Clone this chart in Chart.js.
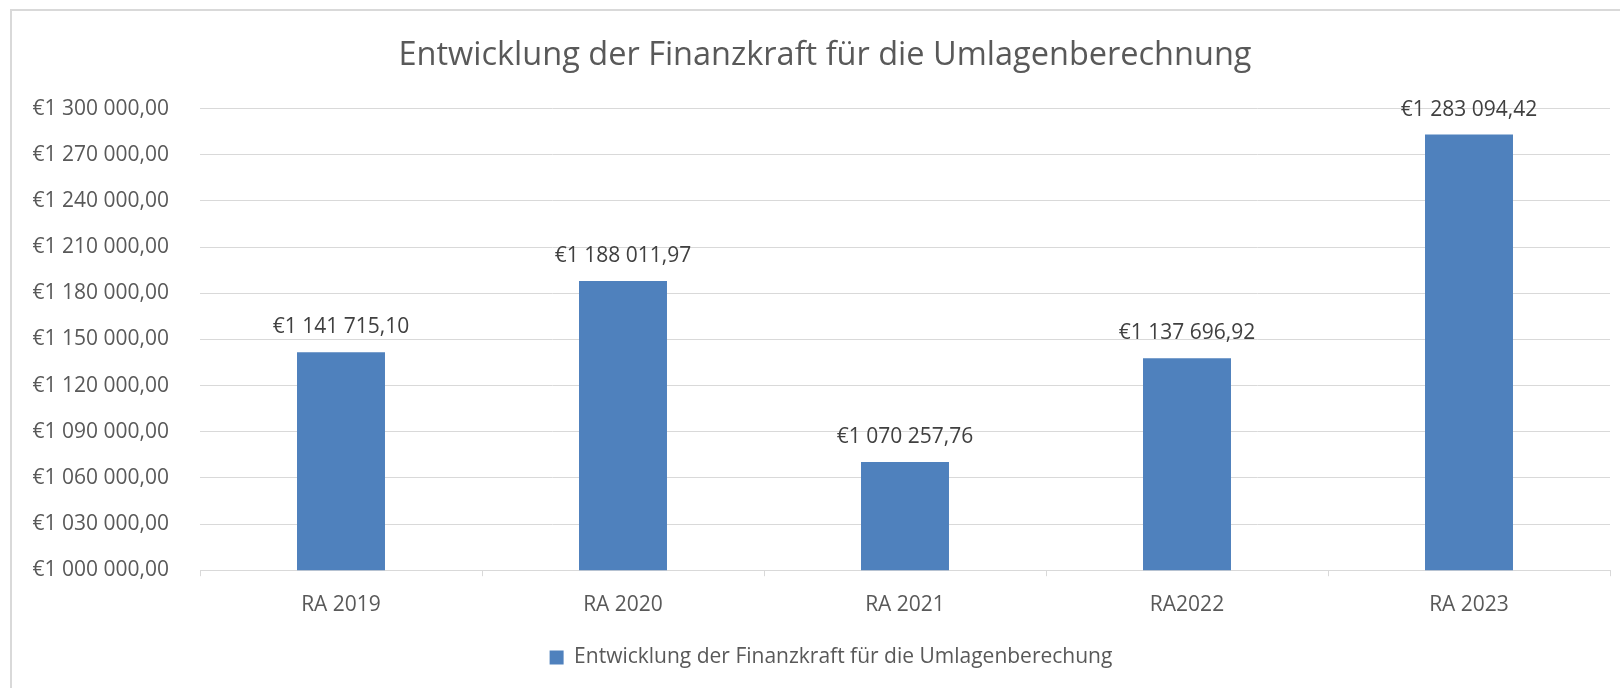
<!DOCTYPE html>
<html><head><meta charset="utf-8">
<script src="https://cdn.jsdelivr.net/npm/chart.js@4.4.0/dist/chart.umd.min.js"></script>
<style>html,body{margin:0;padding:0;background:#fff;overflow:hidden}#wrap{width:1620px;height:688px;position:relative}</style>
</head><body><div id="wrap"><canvas id="c" width="1620" height="688"></canvas></div>
<script>
const categories = ['RA 2019', 'RA 2020', 'RA 2021', 'RA2022', 'RA 2023'];
const values = [1141715.10, 1188011.97, 1070257.76, 1137696.92, 1283094.42];
const seriesName = 'Entwicklung der Finanzkraft für die Umlagenberechung';
const chartTitle = 'Entwicklung der Finanzkraft für die Umlagenberechnung';
const yMin = 1000000, yMax = 1300000, yStep = 30000;

const FONT = "'Open Sans', 'Noto Sans', sans-serif";
const TXT = '#595959';
const GRID = '#d9d9d9';
const BAR = '#4f81bd';
const FS = 21;

function euro(v) {
  const parts = Math.abs(v).toFixed(2).split('.');
  return '€' + parts[0].replace(/\B(?=(\d{3})+(?!\d))/g, ' ') + ',' + parts[1];
}

const framePlugin = {
  id: 'frame',
  beforeDraw(chart) {
    const ctx = chart.ctx;
    ctx.save();
    ctx.fillStyle = '#ffffff';
    ctx.fillRect(0, 0, chart.width, chart.height);
    ctx.fillStyle = GRID;
    ctx.fillRect(10, 9, 2, chart.height);
    ctx.fillRect(10, 9, chart.width, 2);
    ctx.restore();
  }
};

// nudge title and legend horizontally to sit where the original chart centres them
const centerPlugin = {
  id: 'centerShift',
  afterLayout(chart) {
    if (chart.titleBlock) { chart.titleBlock.left += 6; chart.titleBlock.right += 6; }
    if (chart.legend) { chart.legend.left += 12; chart.legend.right += 12; }
  }
};

const labelPlugin = {
  id: 'valueLabels',
  afterDatasetsDraw(chart) {
    const ctx = chart.ctx;
    const meta = chart.getDatasetMeta(0);
    ctx.save();
    ctx.font = FS + 'px ' + FONT;
    ctx.fillStyle = '#404040';
    ctx.textAlign = 'center';
    ctx.textBaseline = 'middle';
    meta.data.forEach((bar, i) => {
      ctx.fillText(euro(chart.data.datasets[0].data[i]), bar.x, bar.y - 25);
    });
    ctx.restore();
  }
};

new Chart(document.getElementById('c'), {
  type: 'bar',
  data: {
    labels: categories,
    datasets: [{
      label: seriesName,
      data: values,
      backgroundColor: BAR,
      borderWidth: 0,
      barPercentage: 0.312,
      categoryPercentage: 1
    }]
  },
  options: {
    responsive: false,
    animation: false,
    devicePixelRatio: 1,
    layout: { padding: { left: 28, right: 10, top: 10, bottom: 10 } },
    plugins: {
      title: {
        display: true,
        text: chartTitle,
        color: TXT,
        font: { family: FONT, size: 32.5, weight: 'normal' },
        padding: { top: 26, bottom: 33.6 }
      },
      legend: {
        display: true,
        position: 'bottom',
        labels: {
          color: TXT,
          font: { family: FONT, size: FS },
          boxWidth: 14,
          boxHeight: 14,
          padding: 10
        }
      },
      tooltip: { enabled: false }
    },
    scales: {
      x: {
        offset: true,
        grid: { display: true, drawOnChartArea: false, drawTicks: true, tickLength: 6, color: GRID, offset: true },
        border: { display: true, color: GRID },
        ticks: { color: TXT, font: { family: FONT, size: FS }, padding: 16 },
        afterFit(s) { s.height = 66.8; }
      },
      y: {
        min: yMin,
        max: yMax,
        grid: { color: GRID, drawTicks: false },
        border: { display: false },
        ticks: {
          stepSize: yStep,
          color: TXT,
          font: { family: FONT, size: FS },
          padding: 31,
          callback: (v) => euro(v)
        },
        afterFit(s) { s.width = 172; }
      }
    }
  },
  plugins: [framePlugin, centerPlugin, labelPlugin]
});
</script>
</body></html>
